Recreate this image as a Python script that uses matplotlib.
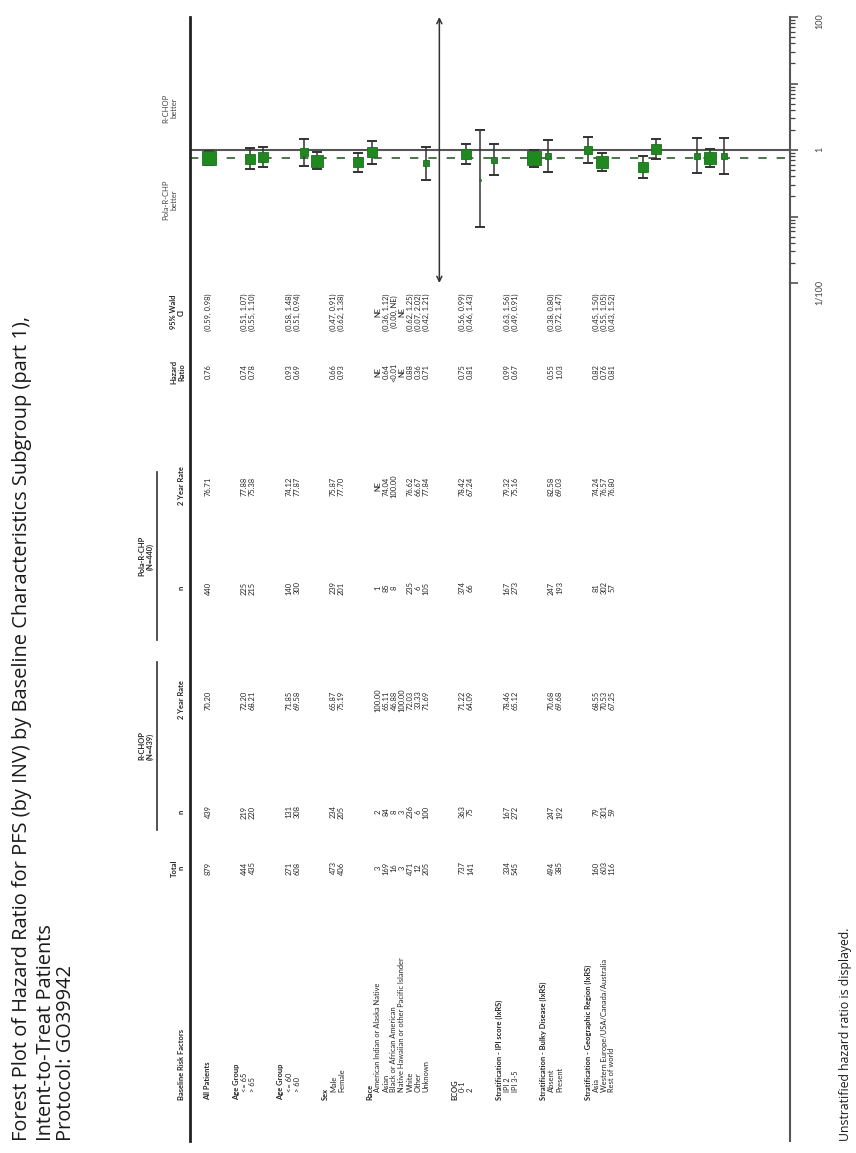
import matplotlib
matplotlib.use("Agg")
import matplotlib.pyplot as plt
from matplotlib.lines import Line2D
from matplotlib.ticker import LogLocator, FixedLocator, FixedFormatter, NullFormatter

plt.rcParams["font.family"] = ["Lato", "DejaVu Sans"]

# ---------------------------------------------------------------- data
title_lines = [
    "Forest Plot of Hazard Ratio for PFS (by INV) by Baseline Characteristics Subgroup (part 1),",
    "Intent-to-Treat Patients",
    "Protocol: GO39942",
]
footnote = "Unstratified hazard ratio is displayed."

group_names = [
    "All Patients", "Age Group", "Age Group", "Sex", "Race", "ECOG",
    "Stratification - IPI score (IxRS)",
    "Stratification - Bulky Disease (IxRS)",
    "Stratification - Geographic Region (IxRS)",
]
group_items = [
    [],
    ["<= 65", "> 65"],
    ["<= 60", "> 60"],
    ["Male", "Female"],
    ["American Indian or Alaska Native", "Asian", "Black or African American",
     "Native Hawaiian or other Pacific Islander", "White", "Other", "Unknown"],
    ["0-1", "2"],
    ["IPI 2", "IPI 3-5"],
    ["Absent", "Present"],
    ["Asia", "Western Europe/USA/Canada/Australia", "Rest of world"],
]

total_n = [879, 444, 435, 271, 608, 473, 406,
           3, 169, 16, 3, 471, 12, 205,
           737, 141, 334, 545, 494, 385, 160, 603, 116]
rchop_n = [439, 219, 220, 131, 308, 234, 205,
           2, 84, 8, 3, 236, 6, 100,
           363, 75, 167, 272, 247, 192, 79, 301, 59]
rchop_rate = ["70.20", "72.20", "68.21", "71.85", "69.58", "65.87", "75.19",
              "100.00", "65.11", "46.88", "100.00", "72.03", "33.33", "71.69",
              "71.22", "64.09", "78.46", "65.12", "70.68", "69.68",
              "68.55", "70.53", "67.25"]
pola_n = [440, 225, 215, 140, 300, 239, 201,
          1, 85, 8, None, 235, 6, 105,
          374, 66, 167, 273, 247, 193, 81, 302, 57]
pola_rate = ["76.71", "77.88", "75.38", "74.12", "77.87", "75.87", "77.70",
             "NE", "74.04", "100.00", "", "76.62", "66.67", "77.84",
             "78.42", "67.24", "79.32", "75.16", "82.58", "69.03",
             "74.24", "76.57", "76.80"]
hazard_ratio = ["0.76", "0.74", "0.78", "0.93", "0.69", "0.66", "0.93",
                "NE", "0.64", "<0.01", "NE", "0.88", "0.36", "0.71",
                "0.75", "0.81", "0.99", "0.67", "0.55", "1.03",
                "0.82", "0.76", "0.81"]
ci_low = ["0.59", "0.51", "0.55", "0.58", "0.51", "0.47", "0.62",
          "NE", "0.36", "0.00", "NE", "0.62", "0.07", "0.42",
          "0.56", "0.46", "0.63", "0.49", "0.38", "0.72",
          "0.45", "0.55", "0.43"]
ci_high = ["0.98", "1.07", "1.10", "1.48", "0.94", "0.91", "1.38",
           "NE", "1.12", "NE", "NE", "1.25", "2.02", "1.21",
           "0.99", "1.43", "1.56", "0.91", "0.80", "1.47",
           "1.50", "1.05", "1.52"]

arm_headers = ["R-CHOP\n(N=439)", "Pola-R-CHP\n(N=440)"]
favour_labels = ["Pola-R-CHP\nbetter", "R-CHOP\nbetter"]
axis_ticks = [0.01, 0.1, 1, 10, 100]
axis_tick_labels = ["1/100", "", "1", "", "100"]

# ---------------------------------------------------------------- layout
W, H = 856, 1153
fig = plt.figure(figsize=(W / 100, H / 100), dpi=100)
TXT = "#262626"


def fx(px):
    return px / W


def fy(py):
    return 1 - py / H


def vtext(x, y, s, ha="left", va="center", size=5.4, weight="normal",
          color=TXT, family=None):
    kw = {} if family is None else {"family": family}
    fig.text(fx(x), fy(y), s, rotation=90, rotation_mode="anchor",
             ha=ha, va=va, fontsize=size, fontweight=weight, color=color,
             linespacing=1.1, **kw)


def fmt(v):
    return "" if v is None else str(v)


# title block and footnote
for xpos, line in zip([22, 46, 66], title_lines):
    vtext(xpos, 1141, line, size=14.4, color="#1a1a1a",
          family=["Open Sans", "DejaVu Sans"])
vtext(845, 1141, footnote, size=8.8, color="#1a1a1a",
      family=["Open Sans", "DejaVu Sans"])

# table rows (screen x of each text line)
row_x, head_x = [], []
last = None
for gi, items in enumerate(group_items):
    if gi == 0:
        head_x.append(208)
        row_x.append(208)
        last = 208
        continue
    h = last + 28.5
    head_x.append(h)
    for k in range(len(items)):
        row_x.append(h + 8 * (k + 1))
    last = row_x[-1]

# column centres (screen y)
col_label = 1100
col_total, col_rn, col_rrate = 868, 812, 700
col_pn, col_prate, col_hr, col_ci = 588, 486, 372, 312

# header row
hx = 185
vtext(hx, col_label, "Baseline Risk Factors", va="bottom", weight="bold")
vtext(hx, col_total, "Total\nn", ha="center", va="bottom", weight="bold")
vtext(hx, col_rn, "n", ha="center", va="bottom", weight="bold")
vtext(hx, col_rrate, "2 Year Rate", ha="center", va="bottom", weight="bold")
vtext(hx, col_pn, "n", ha="center", va="bottom", weight="bold")
vtext(hx, col_prate, "2 Year Rate", ha="center", va="bottom", weight="bold")
vtext(hx, col_hr, "Hazard\nRatio", ha="center", va="bottom", weight="bold")
vtext(hx, col_ci, "95% Wald\nCI", ha="center", va="bottom", weight="bold")

# arm spanning headers with underline
for text, (y0, y1) in zip(arm_headers, [(662, 830), (472, 640)]):
    vtext(146, (y0 + y1) / 2, text, ha="center", va="center", weight="bold")
    fig.add_artist(Line2D([fx(157), fx(157)], [fy(y0), fy(y1)],
                          transform=fig.transFigure, color="#333333", lw=1.2))

# group labels and subgroup rows
i = 0
for gi, items in enumerate(group_items):
    vtext(head_x[gi], col_label, group_names[gi], weight="bold")
    n_rows = 1 if gi == 0 else len(items)
    for k in range(n_rows):
        x = row_x[i]
        if gi > 0:
            vtext(x, col_label - 8, items[k])
        vtext(x, col_total, fmt(total_n[i]), ha="center")
        vtext(x, col_rn, fmt(rchop_n[i]), ha="center")
        vtext(x, col_rrate, rchop_rate[i], ha="center")
        vtext(x, col_pn, fmt(pola_n[i]), ha="center")
        vtext(x, col_prate, pola_rate[i], ha="center")
        vtext(x, col_hr, hazard_ratio[i], ha="center")
        ci_txt = "NE" if ci_low[i] == "NE" and ci_high[i] == "NE" else f"({ci_low[i]}, {ci_high[i]})"
        vtext(x, col_ci, ci_txt, ha="center")
        i += 1

# long horizontal rules of the table (vertical on the page)
fig.add_artist(Line2D([fx(190), fx(190)], [fy(17), fy(1141)],
                      transform=fig.transFigure, color="#222222", lw=2.0))
fig.add_artist(Line2D([fx(790), fx(790)], [fy(283), fy(1141)],
                      transform=fig.transFigure, color="#555555", lw=1.5))

# ---------------------------------------------------------------- forest panel
row0_px, row_step = 209, 13.55
ax = fig.add_axes([fx(190), fy(283), (790 - 190) / W, (283 - 17) / H])
ax.set_yscale("log")
ax.set_ylim(0.01, 100)
ax.set_xlim((190 - row0_px) / row_step, (790 - row0_px) / row_step)
for side in ["left", "top", "bottom"]:
    ax.spines[side].set_visible(False)
ax.spines["right"].set_color("#555555")
ax.spines["right"].set_linewidth(1.5)
ax.patch.set_alpha(0)
ax.set_xticks([])
ax.yaxis.set_ticks_position("right")
ax.yaxis.set_major_locator(FixedLocator(axis_ticks))
ax.yaxis.set_major_formatter(FixedFormatter(axis_tick_labels))
ax.yaxis.set_minor_locator(LogLocator(base=10, subs=range(2, 10)))
ax.yaxis.set_minor_formatter(NullFormatter())
ax.tick_params(axis="y", which="major", length=6, width=1.1, color="#444444",
               labelsize=6.5, labelcolor="#444444", pad=12, labelrotation=90)
ax.tick_params(axis="y", which="minor", length=3.5, width=0.9, color="#444444")

overall = float(hazard_ratio[0])
ax.axhline(1, color="#555555", lw=1.5, zorder=1)
ax.axhline(overall, color="#2c5e2c", lw=1.2, ls=(0, (5, 6)), zorder=1)

# forest row indices: blank + header row between groups
forest_rows = []
r = 0
for gi, items in enumerate(group_items):
    if gi == 0:
        forest_rows.append(0)
        continue
    r += 2
    for k in range(len(items)):
        r += 1
        forest_rows.append(r)


def num(s):
    try:
        return float(s.lstrip("<"))
    except ValueError:
        return None


lo_lim, hi_lim = ax.get_ylim()
for i, rr in enumerate(forest_rows):
    hr_v = num(hazard_ratio[i]) if not hazard_ratio[i].startswith("<") else None
    lo_v, hi_v = num(ci_low[i]), num(ci_high[i])
    if hr_v is None and lo_v is None and hi_v is None:
        continue
    lo_open = lo_v is None or lo_v < lo_lim
    hi_open = hi_v is None or hi_v > hi_lim
    if lo_open or hi_open:
        y0 = lo_lim if lo_open else lo_v
        y1 = hi_lim if hi_open else hi_v
        style = "<->" if (lo_open and hi_open) else ("<-" if lo_open else "->")
        ax.annotate("", xy=(rr, y1), xytext=(rr, y0), xycoords="data",
                    arrowprops=dict(arrowstyle=style, color="#333333", lw=1.1,
                                    mutation_scale=9, shrinkA=0, shrinkB=0),
                    annotation_clip=False)
    else:
        ax.plot([rr, rr], [lo_v, hi_v], color="#333333", lw=1.1, zorder=2)
        ax.plot([rr, rr], [lo_v, hi_v], ls="none", marker="_", ms=7,
                mew=1.4, color="#333333", zorder=2)
    if hr_v is not None:
        side_px = 0.48 * total_n[i] ** 0.5
        ax.plot(rr, hr_v, marker="s", ms=side_px * 0.72, color="#1c8a1c",
                mec="#1c6e1c", mew=0.6, ls="none", zorder=3)

# direction labels beside the forest panel
vtext(170, 200, favour_labels[0], ha="center", size=5.5, color="#444444")
vtext(170, 108, favour_labels[1], ha="center", size=5.5, color="#444444")

fig.savefig("out.png", dpi=100)
